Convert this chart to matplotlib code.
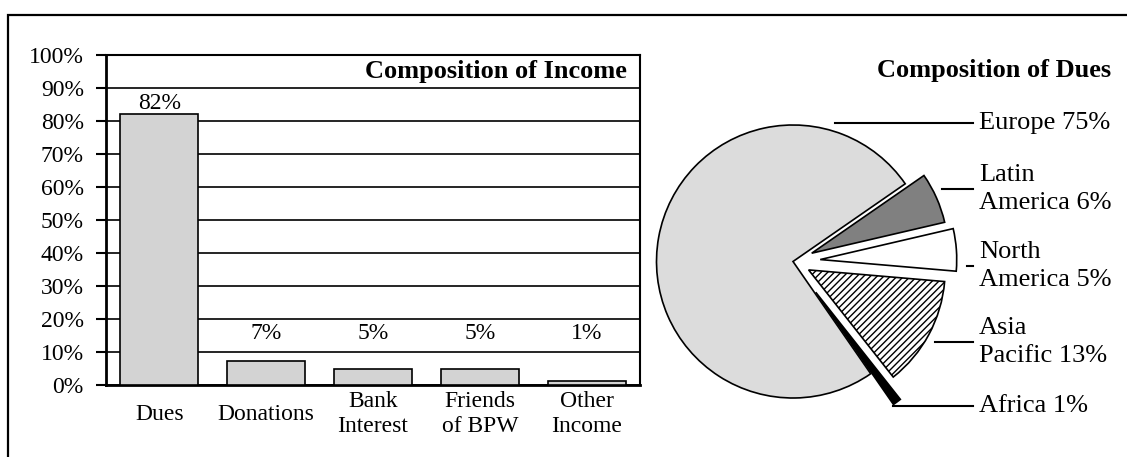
import matplotlib.pyplot as plt
import numpy as np

plt.rcParams['font.family'] = ['Liberation Serif', 'DejaVu Serif']
plt.rcParams['hatch.linewidth'] = 1.0

# income breakdown (percent of total)
income_cats = ['Dues', 'Donations', 'Bank\nInterest', 'Friends\nof BPW', 'Other\nIncome']
income_vals = [82, 7.4, 5.0, 5.0, 1.3]

# dues by region, drawn counter-clockwise starting with Europe
regions = ['Europe', 'Africa', 'Asia\nPacific', 'North\nAmerica', 'Latin\nAmerica']
region_vals = [75, 1, 13, 5, 6]
region_colors = ['#dcdcdc', 'black', 'white', 'white', '#808080']
region_hatch = [None, None, '/////', None, None]
region_explode = [0.0, 0.28, 0.13, 0.2, 0.15]   # fraction of radius

W, H = 1127, 457
fig = plt.figure(figsize=(W / 100, H / 100), dpi=100)

# ---- bar chart ----
ax = fig.add_axes([106 / W, 1 - 385 / H, (640 - 106) / W, (385 - 55) / H])
x = np.arange(len(income_cats))
ax.bar(x, income_vals, width=0.73, color='#d3d3d3', edgecolor='black', linewidth=1.2, zorder=3)
ax.set_xlim(-0.5, len(income_cats) - 0.5)
ax.set_ylim(0, 100)
ax.set_yticks(np.arange(0, 101, 10))
ax.set_yticklabels([f'{t}%' for t in range(0, 101, 10)], fontsize=17)
ax.yaxis.grid(True, color='black', linewidth=1.2, zorder=0)
ax.tick_params(axis='y', length=7, width=1.5, pad=9, direction='out')
ax.set_xticks(x)
ax.set_xticklabels(income_cats, fontsize=17, linespacing=1.25)
ax.tick_params(axis='x', length=0, pad=21)
for lbl in ax.get_xticklabels():
    lbl.set_verticalalignment('center')
for s in ax.spines.values():
    s.set_linewidth(1.5)
ax.spines['left'].set_linewidth(2)
ax.spines['bottom'].set_linewidth(2)

for xi, v in zip(x, income_vals):
    ax.text(xi, max(v, 12.3) + 3.4, f'{v:.0f}%', ha='center', va='center', fontsize=17)

ax.text(0.975, 0.95, 'Composition of Income', transform=ax.transAxes,
        ha='right', va='center', fontsize=19, fontweight='bold')

# ---- overlay in pixel units: frame, pie and its labels ----
ov = fig.add_axes([0, 0, 1, 1])
ov.patch.set_alpha(0)
radius = 136.5
wedges, _ = ov.pie(region_vals, colors=region_colors,
                   explode=[e * radius for e in region_explode],
                   startangle=34.7, counterclock=True, center=(793, H - 261.5),
                   radius=radius, wedgeprops=dict(edgecolor='black', linewidth=1.2))
for w, h in zip(wedges, region_hatch):
    if h:
        w.set_hatch(h)
ov.set_xlim(0, W)
ov.set_ylim(0, H)
ov.axis('off')

# outer frame
ov.plot([8, 8, W], [0, H - 15, H - 15], color='black', linewidth=1.6, solid_joinstyle='miter')

ov.text(1111, H - 71, 'Composition of Dues', ha='right', va='center',
        fontsize=19, fontweight='bold')

# leader lines and region labels
label_y = [123, 406, 342, 266, 189]
line_x0 = [835, 893, 935, 967, 942]
for name, v, ly, lx in zip(regions, region_vals, label_y, line_x0):
    ov.plot([lx, 973], [H - ly, H - ly], color='black', linewidth=1.5)
    ov.text(979, H - ly, f'{name} {v}%', ha='left', va='center', fontsize=19, linespacing=1.3)

fig.savefig('out.png', dpi=100)
